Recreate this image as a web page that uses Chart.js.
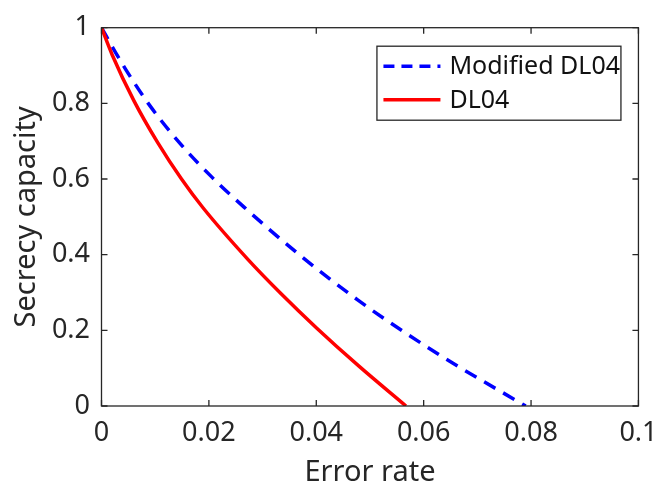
<!DOCTYPE html>
<html>
<head>
<meta charset="utf-8">
<script src="https://cdn.jsdelivr.net/npm/chart.js@4/dist/chart.umd.min.js"></script>
<style>
  html, body { margin: 0; padding: 0; background: #fff; }
  #c { display: block; }
</style>
</head>
<body>
<canvas id="c" width="669" height="491"></canvas>
<script>
// ---- data ----
const seriesNames = ['Modified DL04', 'DL04'];
const errModified = [0, 0.0026, 0.0045, 0.0086, 0.0145, 0.0207, 0.0266, 0.037, 0.0477, 0.0562, 0.0664, 0.079];
const capModified = [1, 0.935, 0.890, 0.802, 0.696, 0.603, 0.525, 0.398, 0.2805, 0.197, 0.105, 0];
const errDL04 = [0, 0.002, 0.006, 0.0105, 0.0149, 0.0189, 0.0273, 0.0335, 0.040, 0.048, 0.0567];
const capDL04 = [1, 0.928, 0.808, 0.6955, 0.600, 0.524, 0.387, 0.296, 0.207, 0.1046, 0];
const xTickValues = [0, 0.02, 0.04, 0.06, 0.08, 0.1];
const xTickLabels = ['0', '0.02', '0.04', '0.06', '0.08', '0.1'];
const yTickValues = [0, 0.2, 0.4, 0.6, 0.8, 1];
const yTickLabels = ['0', '0.2', '0.4', '0.6', '0.8', '1'];
const xTitle = 'Error rate';
const yTitle = 'Secrecy capacity';

const FONT = '"Noto Sans", "Open Sans", sans-serif';
const AXIS_COLOR = '#262626';

const toPoints = (xs, ys) => xs.map((x, i) => ({ x: x, y: ys[i] }));

const boxTicksPlugin = {
  id: 'boxTicks',
  afterDatasetsDraw(chart) {
    const ctx = chart.ctx;
    const a = chart.chartArea;
    const xs = chart.scales.x, ys = chart.scales.y;
    const L = 6;
    ctx.save();
    ctx.strokeStyle = AXIS_COLOR;
    ctx.lineWidth = 1.3;
    ctx.beginPath();
    xTickValues.forEach(v => {
      const px = xs.getPixelForValue(v);
      ctx.moveTo(px, a.bottom); ctx.lineTo(px, a.bottom - L);
      ctx.moveTo(px, a.top); ctx.lineTo(px, a.top + L);
    });
    yTickValues.forEach(v => {
      const py = ys.getPixelForValue(v);
      ctx.moveTo(a.left, py); ctx.lineTo(a.left + L, py);
      ctx.moveTo(a.right, py); ctx.lineTo(a.right - L, py);
    });
    ctx.stroke();
    ctx.strokeRect(a.left, a.top, a.right - a.left, a.bottom - a.top);
    ctx.restore();
  }
};

const legendPlugin = {
  id: 'boxLegend',
  afterDraw(chart) {
    const ctx = chart.ctx;
    const a = chart.chartArea;
    const bx = a.right - 261.5, by = a.top + 18.5, bw = 244, bh = 74;
    ctx.save();
    ctx.fillStyle = '#fff';
    ctx.fillRect(bx, by, bw, bh);
    ctx.strokeStyle = AXIS_COLOR;
    ctx.lineWidth = 1.3;
    ctx.strokeRect(bx, by, bw, bh);
    const rows = [by + 20, by + 53.5];
    chart.data.datasets.forEach((ds, i) => {
      const y = rows[i];
      ctx.beginPath();
      ctx.strokeStyle = ds.borderColor;
      ctx.lineWidth = ds.borderWidth;
      ctx.setLineDash(ds.borderDash ? [11, 7] : []);
      ctx.moveTo(bx + 6.5, y);
      ctx.lineTo(bx + 63.5, y);
      ctx.stroke();
      ctx.setLineDash([]);
      ctx.fillStyle = '#111';
      ctx.font = '25px ' + FONT;
      ctx.textBaseline = 'middle';
      ctx.textAlign = 'left';
      ctx.fillText(ds.label, bx + 72.5, y + 1);
    });
    ctx.restore();
  }
};

new Chart(document.getElementById('c'), {
  type: 'line',
  data: {
    datasets: [
      {
        label: seriesNames[0],
        data: toPoints(errModified, capModified),
        borderColor: '#0000ff',
        borderWidth: 3.5,
        borderDash: [13, 9],
        pointRadius: 0,
        cubicInterpolationMode: 'monotone',
        fill: false,
        order: 1
      },
      {
        label: seriesNames[1],
        data: toPoints(errDL04, capDL04),
        borderColor: '#ff0000',
        borderWidth: 3.5,
        pointRadius: 0,
        cubicInterpolationMode: 'monotone',
        fill: false,
        order: 0
      }
    ]
  },
  options: {
    responsive: false,
    animation: false,
    devicePixelRatio: 1,
    layout: { padding: { top: 15, right: 28, left: 0, bottom: 0 } },
    plugins: { legend: { display: false }, tooltip: { enabled: false } },
    scales: {
      x: {
        type: 'linear',
        min: 0, max: 0.1,
        afterBuildTicks: s => { s.ticks = xTickValues.map(v => ({ value: v })); },
        afterFit: s => { s.height = 85; },
        grid: { display: true, drawOnChartArea: false, drawTicks: false },
        border: { display: false },
        ticks: {
          padding: 11.5,
          color: AXIS_COLOR,
          font: { family: FONT, size: 27 },
          maxRotation: 0,
          autoSkip: false,
          callback: (v, i) => xTickLabels[i]
        },
        title: {
          display: true,
          text: xTitle,
          color: AXIS_COLOR,
          font: { family: FONT, size: 29 },
          padding: { top: 0, bottom: 1 }
        }
      },
      y: {
        type: 'linear',
        min: 0, max: 1,
        afterBuildTicks: s => { s.ticks = yTickValues.map(v => ({ value: v })); },
        afterFit: s => { s.width = 101.5; },
        grid: { display: true, drawOnChartArea: false, drawTicks: false },
        border: { display: false },
        ticks: {
          padding: 11.5,
          color: AXIS_COLOR,
          font: { family: FONT, size: 27 },
          autoSkip: false,
          callback: (v, i) => yTickLabels[i]
        },
        title: {
          display: true,
          text: yTitle,
          color: AXIS_COLOR,
          font: { family: FONT, size: 29 },
          padding: { top: 9.5, bottom: 0 }
        }
      }
    }
  },
  plugins: [boxTicksPlugin, legendPlugin]
});
</script>
</body>
</html>
